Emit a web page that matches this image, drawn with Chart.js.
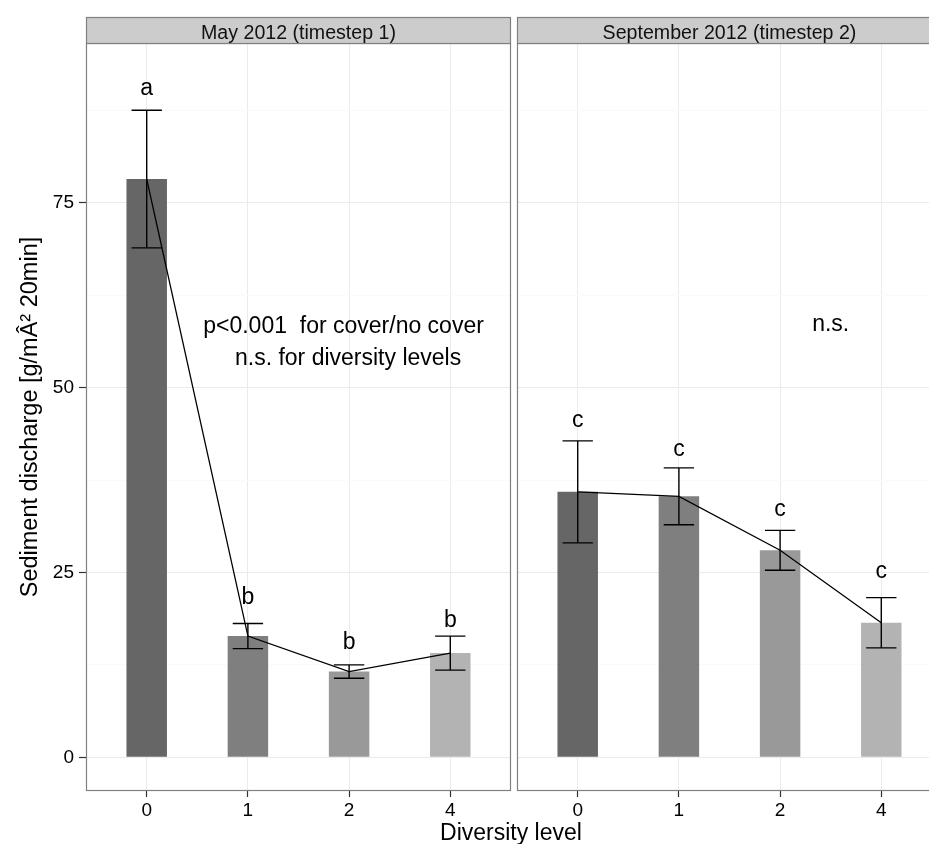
<!DOCTYPE html>
<html>
<head>
<meta charset="utf-8">
<script src="https://cdn.jsdelivr.net/npm/chart.js@4.4.1/dist/chart.umd.min.js"></script>
<style>
  html, body { margin: 0; padding: 0; background: #fff; overflow: hidden; }
  #wrap { position: relative; width: 929px; height: 844px; overflow: hidden; }
  #wrap canvas { position: absolute; top: 0; }
  #may { left: 0; }
  #sep { left: 511px; }
  #xtitle {
    position: absolute; left: 361px; width: 300px; top: 821px;
    text-align: center; color: #000;
    font: 23px 'Liberation Sans', Arial, sans-serif; line-height: 23px;
  }
</style>
</head>
<body>
<div id="wrap">
  <canvas id="may" width="512" height="844"></canvas>
  <canvas id="sep" width="432" height="844"></canvas>
  <div id="xtitle">Diversity level</div>
</div>
<script>
// categories (diversity level) and y axis ticks
const diversityLevels = ['0', '1', '2', '4'];
const yTicks = [0, 25, 50, 75];
const yMinor = [12.5, 37.5, 62.5, 87.5];

// May 2012 (timestep 1)
const mayMeans = [78.2, 16.4, 11.6, 14.1];
const mayErrors = [9.3, 1.7, 0.9, 2.3];
const mayLetters = ['a', 'b', 'b', 'b'];
const mayLetterY = [89.6, 20.7, 14.7, 17.6];
const mayNotes = ['p<0.001  for cover/no cover', 'n.s. for diversity levels'];
const mayNoteX = [1.945, 1.99];
const mayNoteY = [57.4, 53.0];

// September 2012 (timestep 2)
const sepMeans = [35.9, 35.3, 28.0, 18.2];
const sepErrors = [6.9, 3.85, 2.7, 3.4];
const sepLetters = ['c', 'c', 'c', 'c'];
const sepLetterY = [44.7, 40.7, 32.7, 24.2];
const sepNotes = ['n.s.'];
const sepNoteX = [2.5];
const sepNoteY = [57.6];

const FONT = "'Liberation Sans', Arial, sans-serif";
const barColours = ['#666666', '#7f7f7f', '#999999', '#b3b3b3'];

function panelChart(canvasId, strip, means, errors, letters, letterY, notes, noteX, noteY, withYAxis) {
    const ctx = document.getElementById(canvasId).getContext('2d');

    // strip, error bars, letters, annotations and panel border
    const panelPlugin = {
        id: 'panel' + canvasId,
        afterDatasetsDraw(chart) {
            const c = chart.ctx;
            const a = chart.chartArea;
            const x = chart.scales.x;
            const y = chart.scales.y;
            c.save();

            c.strokeStyle = '#000';
            c.lineWidth = 1.4;
            const half = x.getPixelForValue(0.15) - x.getPixelForValue(0);
            means.forEach((m, i) => {
                const px = x.getPixelForValue(i);
                const top = y.getPixelForValue(m + errors[i]);
                const bot = y.getPixelForValue(m - errors[i]);
                c.beginPath();
                c.moveTo(px, top); c.lineTo(px, bot);
                c.moveTo(px - half, top); c.lineTo(px + half, top);
                c.moveTo(px - half, bot); c.lineTo(px + half, bot);
                c.stroke();
            });

            c.fillStyle = '#000';
            c.textAlign = 'center';
            c.textBaseline = 'alphabetic';
            c.font = '23px ' + FONT;
            letters.forEach((l, i) => {
                c.fillText(l, x.getPixelForValue(i), y.getPixelForValue(letterY[i]));
            });
            notes.forEach((t, i) => {
                c.fillText(t, x.getPixelForValue(noteX[i]), y.getPixelForValue(noteY[i]));
            });

            c.strokeStyle = '#808080';
            c.lineWidth = 1.2;
            c.strokeRect(a.left + 0.5, a.top + 0.5, a.right - a.left - 1, a.bottom - a.top - 1);

            c.fillStyle = '#cccccc';
            c.fillRect(a.left, 17, a.right - a.left, 26);
            c.strokeRect(a.left + 0.5, 17.5, a.right - a.left - 1, 26);
            c.fillStyle = '#111';
            c.font = '19.6px ' + FONT;
            c.fillText(strip, (a.left + a.right) / 2, 38.5);
            c.restore();
        }
    };

    return new Chart(ctx, {
        type: 'bar',
        data: {
            datasets: [
                {
                    type: 'line',
                    data: means.map((v, i) => ({ x: i, y: v })),
                    borderColor: '#000',
                    borderWidth: 1.3,
                    pointRadius: 0,
                    fill: false,
                    order: 1
                },
                {
                    type: 'bar',
                    data: means.map((v, i) => ({ x: i, y: v })),
                    backgroundColor: barColours,
                    borderWidth: 0,
                    barPercentage: 0.4,
                    categoryPercentage: 1,
                    order: 2
                }
            ]
        },
        options: {
            responsive: false,
            animation: false,
            layout: { padding: { top: 43, left: withYAxis ? 0 : 6, right: 1, bottom: 0 } },
            plugins: { legend: { display: false }, tooltip: { enabled: false } },
            scales: {
                x: {
                    type: 'linear',
                    min: -0.6,
                    max: 3.6,
                    offset: false,
                    afterBuildTicks: s => { s.ticks = diversityLevels.map((l, i) => ({ value: i })); },
                    afterFit: s => { s.height = 53; },
                    ticks: {
                        callback: v => diversityLevels[v],
                        font: { family: FONT, size: 19 },
                        color: '#000',
                        padding: 2,
                        maxRotation: 0
                    },
                    grid: { offset: false, color: '#ebebeb', tickLength: 6, tickColor: '#333', tickWidth: 1.2 },
                    border: { display: false }
                },
                y: {
                    min: -4.55,
                    max: 96.6,
                    afterBuildTicks: s => { s.ticks = yTicks.concat(yMinor).sort((p, q) => p - q).map(v => ({ value: v })); },
                    afterFit: s => { s.width = withYAxis ? 86 : 0; },
                    ticks: {
                        display: withYAxis,
                        callback: v => yTicks.includes(v) ? String(v) : '',
                        font: { family: FONT, size: 19 },
                        color: '#000',
                        padding: 5
                    },
                    grid: {
                        color: c => yTicks.includes(c.tick.value) ? '#ebebeb' : '#fafafa',
                        drawTicks: withYAxis,
                        tickLength: 7,
                        tickWidth: 1.2,
                        tickColor: c => yTicks.includes(c.tick.value) ? '#333' : 'rgba(0,0,0,0)'
                    },
                    border: { display: false },
                    title: {
                        display: withYAxis,
                        text: 'Sediment discharge [g/mÂ² 20min]',
                        font: { family: FONT, size: 23.5 },
                        color: '#000',
                        padding: { top: 16, bottom: 0 }
                    }
                }
            }
        },
        plugins: [panelPlugin]
    });
}

panelChart('may', 'May 2012 (timestep 1)', mayMeans, mayErrors, mayLetters, mayLetterY,
    mayNotes, mayNoteX, mayNoteY, true);
panelChart('sep', 'September 2012 (timestep 2)', sepMeans, sepErrors, sepLetters, sepLetterY,
    sepNotes, sepNoteX, sepNoteY, false);
</script>
</body>
</html>
